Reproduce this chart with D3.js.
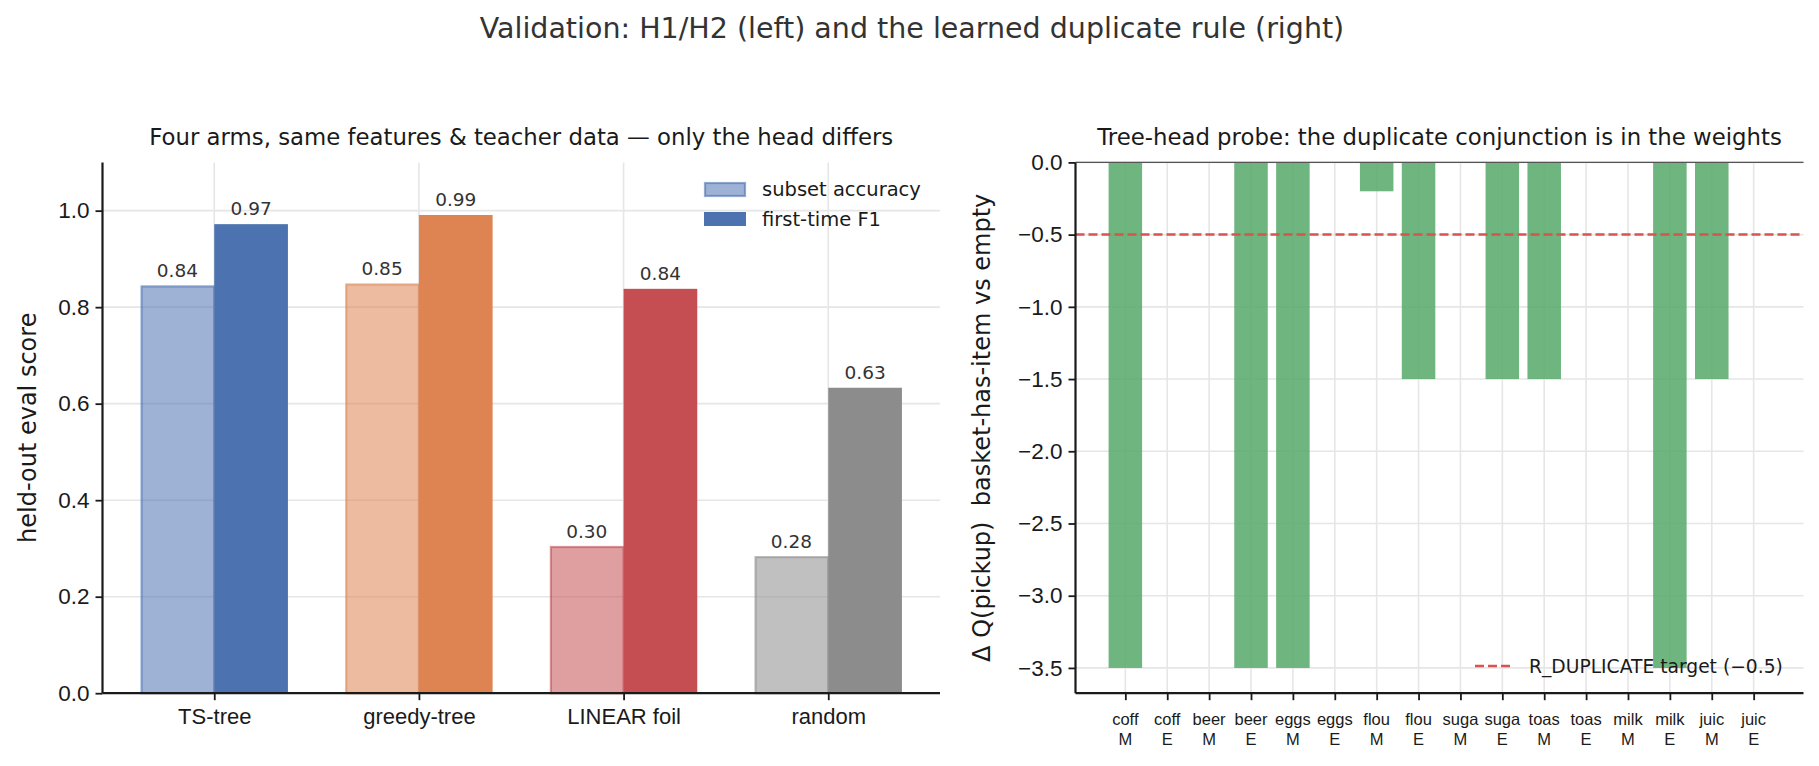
<!DOCTYPE html>
<html>
<head>
<meta charset="utf-8">
<script src="https://cdn.jsdelivr.net/npm/d3@7"></script>
<style>
  body { margin: 0; background: #fff; }
  svg { font-family: "DejaVu Sans", sans-serif; }
  .axis path, .axis line { stroke: #1a1a1a; }
  .axis line { stroke-width: 1.8; }
  .axis text { fill: #1a1a1a; }
</style>
</head>
<body>
<div id="chart"></div>
<script>
// left panel data
const arms = ['TS-tree', 'greedy-tree', 'LINEAR foil', 'random'];
const subsetAcc = [0.843, 0.847, 0.303, 0.282];
const firstTimeF1 = [0.972, 0.991, 0.838, 0.633];
const subsetLabels = ['0.84', '0.85', '0.30', '0.28'];
const f1Labels = ['0.97', '0.99', '0.84', '0.63'];
const armColors = ['#4c72b0', '#dd8452', '#c44e52', '#8c8c8c'];
const leftTicks = [0.0, 0.2, 0.4, 0.6, 0.8, 1.0];

// right panel data
const probeItems = ['coff', 'coff', 'beer', 'beer', 'eggs', 'eggs', 'flou', 'flou',
                    'suga', 'suga', 'toas', 'toas', 'milk', 'milk', 'juic', 'juic'];
const probeKind = ['M', 'E', 'M', 'E', 'M', 'E', 'M', 'E', 'M', 'E', 'M', 'E', 'M', 'E', 'M', 'E'];
const deltaQ = [-3.5, 0, 0, -3.5, -3.5, 0, -0.2, -1.5, 0, -1.5, -1.5, 0, 0, -3.5, -1.5, 0];
const rightTicks = [0.0, -0.5, -1.0, -1.5, -2.0, -2.5, -3.0, -3.5];
const dupTarget = -0.5;

const W = 1819, H = 766;
const gridColor = '#e6e6e6';
const dupColor = '#d9534f';

const svg = d3.select('#chart').append('svg')
    .attr('width', W).attr('height', H);

svg.append('text')
    .attr('x', 912).attr('y', 38)
    .attr('text-anchor', 'middle')
    .attr('font-size', '28.5px')
    .attr('fill', '#333')
    .text('Validation: H1/H2 (left) and the learned duplicate rule (right)');

// ---------- left panel ----------
const L = { left: 102.5, right: 940, top: 162.4, bottom: 693.2 };
const bw = 0.36;
const xL = d3.scaleLinear().domain([-0.546, 3.546]).range([L.left, L.right]);
const yL = d3.scaleLinear().domain([0, 1.1]).range([L.bottom, L.top]);
const gL = svg.append('g');

// grid
gL.append('g').selectAll('line').data(leftTicks).join('line')
    .attr('x1', L.left).attr('x2', L.right)
    .attr('y1', d => yL(d)).attr('y2', d => yL(d))
    .attr('stroke', gridColor).attr('stroke-width', 1.6);
gL.append('g').selectAll('line').data(arms).join('line')
    .attr('x1', (d, i) => xL(i)).attr('x2', (d, i) => xL(i))
    .attr('y1', L.top).attr('y2', L.bottom)
    .attr('stroke', gridColor).attr('stroke-width', 1.6);

// subset accuracy (light)
gL.append('g').selectAll('rect').data(subsetAcc).join('rect')
    .attr('x', (d, i) => xL(i - bw) + 1)
    .attr('y', d => yL(d))
    .attr('width', xL(bw) - xL(0) - 1)
    .attr('height', d => yL(0) - yL(d))
    .attr('fill', (d, i) => armColors[i])
    .attr('fill-opacity', 0.55)
    .attr('stroke', (d, i) => armColors[i])
    .attr('stroke-opacity', 0.6)
    .attr('stroke-width', 2.2);

// first-time F1
gL.append('g').selectAll('rect').data(firstTimeF1).join('rect')
    .attr('x', (d, i) => xL(i))
    .attr('y', d => yL(d))
    .attr('width', xL(bw) - xL(0))
    .attr('height', d => yL(0) - yL(d))
    .attr('fill', (d, i) => armColors[i]);

// value labels
gL.append('g').selectAll('text').data(subsetAcc).join('text')
    .attr('x', (d, i) => xL(i - bw / 2))
    .attr('y', d => yL(d) - 9)
    .attr('text-anchor', 'middle')
    .attr('font-size', '18.5px').attr('fill', '#333')
    .text((d, i) => subsetLabels[i]);
gL.append('g').selectAll('text').data(firstTimeF1).join('text')
    .attr('x', (d, i) => xL(i + bw / 2))
    .attr('y', d => yL(d) - 9)
    .attr('text-anchor', 'middle')
    .attr('font-size', '18.5px').attr('fill', '#333')
    .text((d, i) => f1Labels[i]);

// axes
gL.append('g').attr('class', 'axis')
    .attr('transform', `translate(${L.left},0)`)
    .call(d3.axisLeft(yL).tickValues(leftTicks).tickFormat(d3.format('.1f')).tickSize(7).tickPadding(6))
    .call(g => g.select('.domain').attr('d', `M0,${L.top}V${L.bottom}`).attr('stroke-width', 2.2))
    .selectAll('text').attr('font-size', '22.5px');
gL.append('g').attr('class', 'axis')
    .attr('transform', `translate(0,${L.bottom})`)
    .call(d3.axisBottom(xL).tickValues([0, 1, 2, 3]).tickFormat(i => arms[i]).tickSize(7).tickPadding(8))
    .call(g => g.select('.domain').attr('d', `M${L.left},0H${L.right}`).attr('stroke-width', 2.2))
    .selectAll('text').attr('font-size', '22px');

gL.append('text')
    .attr('transform', `translate(36,${(L.top + L.bottom) / 2}) rotate(-90)`)
    .attr('text-anchor', 'middle')
    .attr('font-size', '24px').attr('fill', '#1a1a1a')
    .text('held-out eval score');
gL.append('text')
    .attr('x', (L.left + L.right) / 2).attr('y', 145)
    .attr('text-anchor', 'middle')
    .attr('font-size', '22.8px').attr('fill', '#1a1a1a')
    .text('Four arms, same features & teacher data \u2014 only the head differs');

// legend
const legL = gL.append('g').attr('transform', 'translate(704,182)');
legL.append('rect').attr('x', 1).attr('y', 1).attr('width', 40).attr('height', 13)
    .attr('fill', armColors[0]).attr('fill-opacity', 0.55)
    .attr('stroke', armColors[0]).attr('stroke-opacity', 0.6).attr('stroke-width', 2.2);
legL.append('text').attr('x', 58).attr('y', 14).attr('font-size', '19.5px').attr('fill', '#1a1a1a')
    .text('subset accuracy');
legL.append('rect').attr('x', 0).attr('y', 30).attr('width', 42).attr('height', 14)
    .attr('fill', armColors[0]);
legL.append('text').attr('x', 58).attr('y', 44).attr('font-size', '19.5px').attr('fill', '#1a1a1a')
    .text('first-time F1');

// ---------- right panel ----------
const R = { left: 1075.5, right: 1803.5, top: 162.4, bottom: 693.2 };
const xR = d3.scaleLinear().domain([-1.19, 16.19]).range([R.left, R.right]);
const yR = d3.scaleLinear().domain([0, -3.675]).range([R.top, R.bottom]);
const gR = svg.append('g');

gR.append('g').selectAll('line').data(rightTicks).join('line')
    .attr('x1', R.left).attr('x2', R.right)
    .attr('y1', d => yR(d)).attr('y2', d => yR(d))
    .attr('stroke', gridColor).attr('stroke-width', 1.6);
gR.append('g').selectAll('line').data(deltaQ).join('line')
    .attr('x1', (d, i) => xR(i)).attr('x2', (d, i) => xR(i))
    .attr('y1', R.top).attr('y2', R.bottom)
    .attr('stroke', gridColor).attr('stroke-width', 1.6);

gR.append('g').selectAll('rect').data(deltaQ).join('rect')
    .attr('x', (d, i) => xR(i - 0.4))
    .attr('y', yR(0))
    .attr('width', xR(0.4) - xR(-0.4))
    .attr('height', d => yR(d) - yR(0))
    .attr('fill', '#55a868')
    .attr('fill-opacity', 0.85);

// zero line
gR.append('line')
    .attr('x1', R.left).attr('x2', R.right)
    .attr('y1', yR(0)).attr('y2', yR(0))
    .attr('stroke', '#555').attr('stroke-width', 1.2);

// duplicate target
gR.append('line')
    .attr('x1', R.left).attr('x2', R.right)
    .attr('y1', yR(dupTarget)).attr('y2', yR(dupTarget))
    .attr('stroke', dupColor)
    .attr('stroke-width', 2.5).attr('stroke-dasharray', '9,4');

gR.append('g').attr('class', 'axis')
    .attr('transform', `translate(${R.left},0)`)
    .call(d3.axisLeft(yR).tickValues(rightTicks).tickFormat(d => d3.format('.1f')(d).replace('-', '\u2212')).tickSize(7).tickPadding(6))
    .call(g => g.select('.domain').attr('d', `M0,${R.top}V${R.bottom}`).attr('stroke-width', 2.2))
    .selectAll('text').attr('font-size', '22.5px');

const xAxR = gR.append('g').attr('class', 'axis')
    .attr('transform', `translate(0,${R.bottom})`)
    .call(d3.axisBottom(xR).tickValues(d3.range(deltaQ.length)).tickFormat('').tickSize(7))
    .call(g => g.select('.domain').attr('d', `M${R.left},0H${R.right}`).attr('stroke-width', 2.2));
xAxR.append('g').selectAll('text').data(deltaQ).join('text')
    .attr('x', (d, i) => xR(i)).attr('y', 32)
    .attr('text-anchor', 'middle')
    .attr('font-size', '16.5px').attr('fill', '#1a1a1a')
    .selectAll('tspan').data((d, i) => [probeItems[i], probeKind[i]]).join('tspan')
    .attr('x', function () { return this.parentNode.getAttribute('x'); })
    .attr('dy', (d, j) => j === 0 ? 0 : 20)
    .text(d => d);

gR.append('text')
    .attr('transform', `translate(990,${(R.top + R.bottom) / 2}) rotate(-90)`)
    .attr('text-anchor', 'middle')
    .attr('font-size', '24px').attr('fill', '#1a1a1a')
    .style('white-space', 'pre')
    .text('\u0394 Q(pickup)  basket-has-item vs empty');
gR.append('text')
    .attr('x', (R.left + R.right) / 2).attr('y', 145)
    .attr('text-anchor', 'middle')
    .attr('font-size', '22.8px').attr('fill', '#1a1a1a')
    .text('Tree-head probe: the duplicate conjunction is in the weights');

const legR = gR.append('g').attr('transform', 'translate(1475,666)');
legR.append('line').attr('x1', 0).attr('x2', 38).attr('y1', 0).attr('y2', 0)
    .attr('stroke', dupColor)
    .attr('stroke-width', 2.5).attr('stroke-dasharray', '9,4');
legR.append('text').attr('x', 54).attr('y', 7).attr('font-size', '18.7px').attr('fill', '#1a1a1a')
    .text('R_DUPLICATE target (\u22120.5)');
</script>
</body>
</html>
